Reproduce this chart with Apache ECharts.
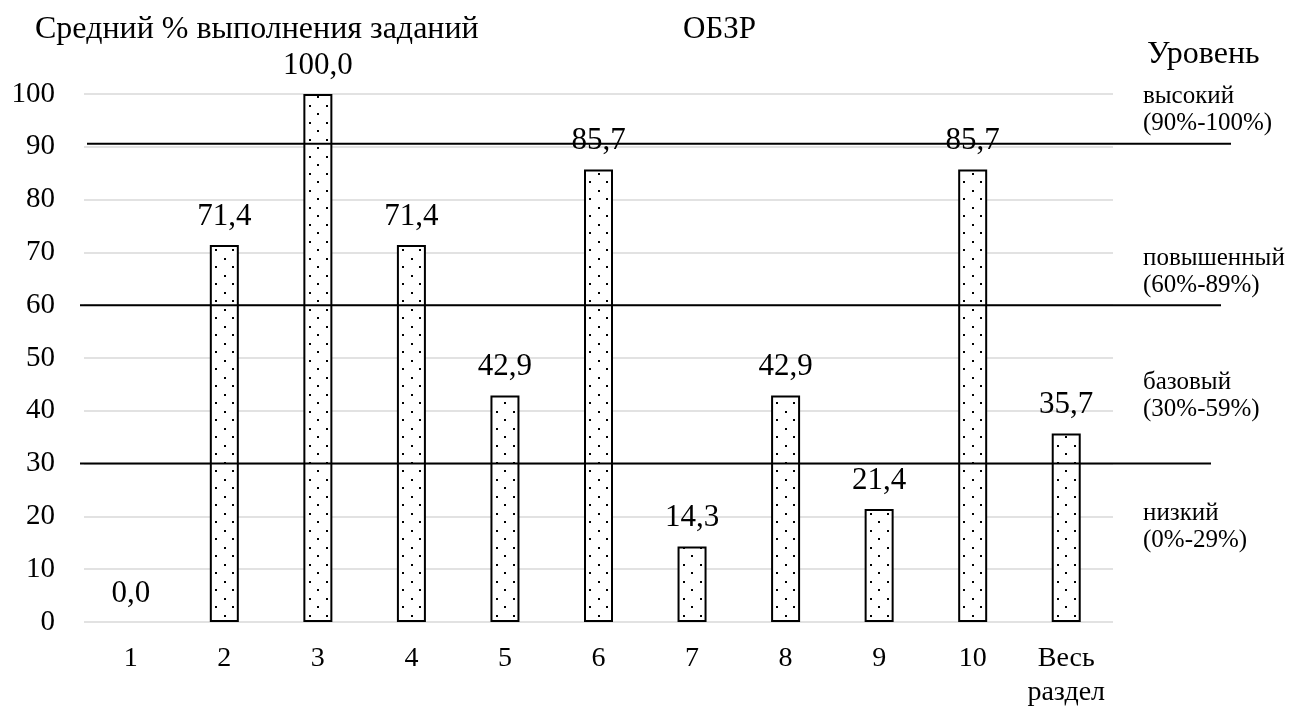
<!DOCTYPE html>
<html><head><meta charset="utf-8">
<script src="https://cdn.jsdelivr.net/npm/echarts@6/dist/echarts.min.js"></script>
<style>html,body{margin:0;padding:0;background:#fff}#c{width:1291px;height:706px}</style>
</head><body><div id="c"></div>
<script>
const categories = ['1','2','3','4','5','6','7','8','9','10','Весь\nраздел'];
const values = [0.0, 71.4, 100.0, 71.4, 42.9, 85.7, 14.3, 42.9, 21.4, 85.7, 35.7];
const yTicks = [0,10,20,30,40,50,60,70,80,90,100];
const levelValues = [30, 60, 90.6];
const levelNames = ['низкий', 'базовый', 'повышенный', 'высокий'];
const levelRanges = ['(0%-29%)', '(30%-59%)', '(60%-89%)', '(90%-100%)'];

const FONT = '"Liberation Serif", "Times New Roman", serif';
const GRID = {left: 84, right: 178, top: 94, bottom: 84};
// horizontal extent (px) of each level line
const levelExtents = [[80, 1211], [80, 1221], [87, 1231]];
// baseline (px) of the first line of each level caption
const levelCaptionBaseline = [521, 390, 266, 104];

function dotPattern(){
  const c = document.createElement('canvas');
  c.width = 17; c.height = 17;
  const g = c.getContext('2d');
  g.fillStyle = '#fff'; g.fillRect(0,0,17,17);
  g.fillStyle = '#000';
  g.fillRect(3,3,2,2);
  g.fillRect(11,11,2,2);
  return c;
}

const chart = echarts.init(document.getElementById('c'), null, {renderer:'canvas'});

const lineSeries = levelValues.map((v,i)=>({
  type:'line', xAxisIndex:1, yAxisIndex:1, symbol:'none', silent:true,
  lineStyle:{color:'#000', width:2}, z:5,
  data:[[levelExtents[i][0], v],[levelExtents[i][1], v]]
}));

const pattern = dotPattern();
const CAP_FS = 25, CAP_LH = 27;

chart.setOption({
  animation:false,
  textStyle:{fontFamily:FONT},
  grid:[
    {left:GRID.left, right:GRID.right, top:GRID.top, bottom:GRID.bottom, containLabel:false, outerBoundsMode:'none'},
    {left:0, right:0, top:GRID.top, bottom:GRID.bottom, containLabel:false, outerBoundsMode:'none'}
  ],
  xAxis:[
    {type:'category', data:categories, gridIndex:0,
     axisLine:{show:false}, axisTick:{show:false},
     axisLabel:{interval:0, color:'#000', fontSize:28, fontFamily:FONT, margin:20, lineHeight:34, verticalAlign:'top', hideOverlap:false}},
    {type:'value', gridIndex:1, min:0, max:1291, show:false}
  ],
  yAxis:[
    {type:'value', gridIndex:0, min:yTicks[0], max:yTicks[yTicks.length-1], interval:10,
     axisLine:{show:false}, axisTick:{show:false},
     splitLine:{lineStyle:{color:'#d9d9d9', width:1.5}},
     axisLabel:{color:'#000', fontSize:29, fontFamily:FONT, margin:29}},
    {type:'value', gridIndex:1, min:0, max:100, show:false}
  ],
  series:[
    {type:'bar', barWidth:29, z:3,
     data:values.map(v=>({value:v, itemStyle:{borderWidth: v===0 ? 0 : 2}})),
     itemStyle:{color:{image:pattern, repeat:'repeat'}, borderColor:'#000', borderWidth:2},
     label:{show:true, position:'top', distance:13, color:'#000', fontSize:31, fontFamily:FONT,
       formatter:p=>p.value.toFixed(1).replace('.',',')}}
  ].concat(lineSeries),
  graphic:[
    {type:'text', left:35, top:14, style:{text:'Средний % выполнения заданий', font:'32px '+FONT, fill:'#000'}},
    {type:'text', left:683, top:14, style:{text:'ОБЗР', font:'31px '+FONT, fill:'#000'}},
    {type:'text', left:1147, top:39, style:{text:'Уровень', font:'32px '+FONT, fill:'#000'}}
  ].concat(levelNames.map((n,i)=>({
    type:'text', left:1143, top:levelCaptionBaseline[i] - 0.8*CAP_FS - (CAP_LH-CAP_FS)/2,
    style:{text:n+'\n'+levelRanges[i], font:CAP_FS+'px '+FONT, lineHeight:CAP_LH, fill:'#000'}
  })))
});
</script></body></html>
